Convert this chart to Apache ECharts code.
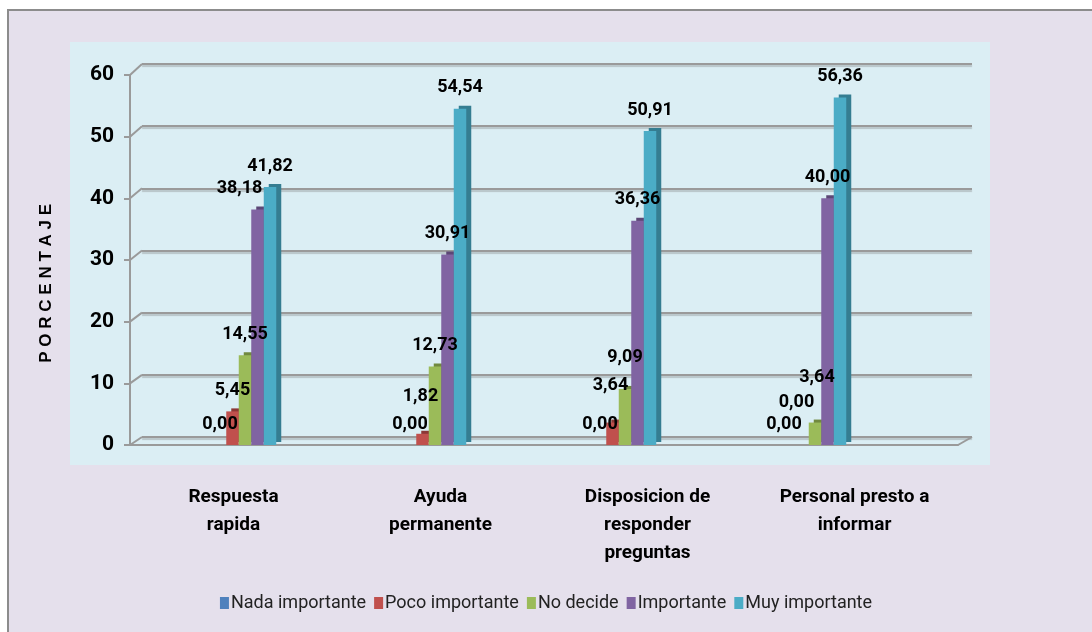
<!DOCTYPE html>
<html>
<head>
<meta charset="utf-8">
<script src="https://cdn.jsdelivr.net/npm/echarts@6/dist/echarts.min.js"></script>
<style>
  html, body { margin: 0; padding: 0; background: #fff; }
  #chart { width: 1092px; height: 632px; }
</style>
</head>
<body>
<div id="chart"></div>
<script>
// categorias y valores (porcentaje)
var categorias = ['Respuesta\nrapida', 'Ayuda\npermanente', 'Disposicion de\nresponder\npreguntas', 'Personal presto a\ninformar'];
var nadaImportante = [0.00, 0.00, 0.00, 0.00];
var pocoImportante = [5.45, 1.82, 3.64, 0.00];
var noDecide = [14.55, 12.73, 9.09, 3.64];
var importante = [38.18, 30.91, 36.36, 40.00];
var muyImportante = [41.82, 54.54, 50.91, 56.36];
var yTicks = [0, 10, 20, 30, 40, 50, 60];

var fuente = "Roboto, 'Liberation Sans', sans-serif";
var gris = '#9a9a9a';

function serie(nombre, datos, color, lado) {
    return {
        name: nombre,
        type: 'bar',
        xAxisIndex: 2,
        yAxisIndex: 2,
        data: datos,
        barWidth: 12.5,
        barGap: '0%',
        itemStyle: {
            color: color,
            shadowColor: lado,
            shadowBlur: 0,
            shadowOffsetX: 5,
            shadowOffsetY: -3
        },
        label: {
            show: true,
            position: 'top',
            distance: 12,
            color: '#000',
            fontFamily: fuente,
            fontWeight: 'bold',
            fontSize: 18,
            formatter: function (p) {
                return p.value.toFixed(2).replace('.', ',');
            }
        }
    };
}

function ejeOculto(i) {
    return {
        gridIndex: i,
        axisLine: { show: false },
        axisTick: { show: false },
        axisLabel: { show: false },
        splitLine: { show: false }
    };
}

// desplaza etiquetas concretas (evita solapes como en el original)
function desplazar(datos, offsets) {
    return datos.map(function (v, i) {
        return offsets[i] ? { value: v, label: { offset: offsets[i] } } : v;
    });
}

var myChart = echarts.init(document.getElementById('chart'));
var option = {
    backgroundColor: '#ffffff',
    graphic: [
        {
            type: 'rect', z: -10,
            shape: { x: 8, y: 10, width: 1100, height: 640 },
            style: { fill: '#e5e0ec', stroke: '#8c8c8c', lineWidth: 2 }
        },
        {
            type: 'rect', z: -9,
            shape: { x: 70, y: 42, width: 920, height: 423 },
            style: { fill: '#dbeef4' }
        },
        {
            type: 'text', left: 38, top: 204, rotation: Math.PI / 2,
            style: {
                text: 'P O R C E N T A J E',
                fontFamily: "'Liberation Sans', Arial, sans-serif",
                fontWeight: 'bold',
                fontSize: 17,
                fill: '#000'
            }
        }
    ],
    grid: [
        // frente: eje y piso
        { left: 130, right: 134, top: 75, bottom: 187 },
        // pared del fondo: lineas de cuadricula
        { left: 142, right: 120, top: 64, bottom: 195 },
        // barras
        { left: 150, right: 182, top: 75, bottom: 187 }
    ],
    legend: {
        top: 589,
        left: 'center',
        itemWidth: 9,
        itemHeight: 12,
        itemGap: 8,
        icon: 'rect',
        textStyle: {
            fontFamily: fuente,
            fontSize: 18,
            color: '#222',
            padding: [0, 0, 0, -3]
        },
        data: ['Nada importante', 'Poco importante', 'No decide', 'Importante', 'Muy importante']
    },
    xAxis: [
        {
            type: 'category',
            gridIndex: 0,
            data: categorias,
            axisLine: { show: true, lineStyle: { color: gris, width: 2 } },
            axisTick: { show: false },
            axisLabel: {
                interval: 0,
                margin: 38,
                color: '#000',
                fontFamily: fuente,
                fontWeight: 'bold',
                fontSize: 19,
                lineHeight: 28
            }
        },
        Object.assign({ type: 'category', data: categorias }, ejeOculto(1)),
        Object.assign({ type: 'category', data: categorias }, ejeOculto(2))
    ],
    yAxis: [
        {
            type: 'value',
            gridIndex: 0,
            min: yTicks[0],
            max: yTicks[yTicks.length - 1],
            interval: 10,
            axisLine: { show: true, lineStyle: { color: gris, width: 2 } },
            axisTick: { show: true, length: 6, lineStyle: { color: gris, width: 2 } },
            axisLabel: {
                margin: 16,
                color: '#000',
                fontFamily: fuente,
                fontWeight: 'bold',
                fontSize: 21
            },
            splitLine: { show: false }
        },
        {
            type: 'value',
            gridIndex: 1,
            min: yTicks[0],
            max: yTicks[yTicks.length - 1],
            interval: 10,
            axisLine: { show: false },
            axisTick: { show: false },
            axisLabel: { show: false },
            splitLine: {
                lineStyle: {
                    color: gris,
                    width: 2,
                    shadowColor: 'rgba(120,120,120,0.35)',
                    shadowBlur: 1,
                    shadowOffsetY: 2
                }
            }
        },
        Object.assign({ type: 'value', min: yTicks[0], max: yTicks[yTicks.length - 1], interval: 10 }, ejeOculto(2))
    ],
    series: [
        serie('Nada importante', desplazar(nadaImportante, { 3: [-6, 0] }), '#4f81bd', '#385d8a'),
        serie('Poco importante', desplazar(pocoImportante, { 1: [-2, -16], 2: [-2, -16], 3: [-6, -22] }), '#c0504d', '#8c3836'),
        serie('No decide', desplazar(noDecide, { 2: [0, -10], 3: [2, -24] }), '#9bbb59', '#71893f'),
        serie('Importante', desplazar(importante, { 0: [-18, 0] }), '#8064a2', '#5c4776'),
        serie('Muy importante', muyImportante, '#4bacc6', '#357d91')
    ]
};
myChart.setOption(option);

// lineas diagonales que unen el eje con la pared del fondo
var diagonales = [];
yTicks.forEach(function (t) {
    var a = myChart.convertToPixel({ xAxisIndex: 0, yAxisIndex: 0 }, [0, t]);
    var b = myChart.convertToPixel({ xAxisIndex: 1, yAxisIndex: 1 }, [0, t]);
    diagonales.push({
        type: 'line', z: 5,
        shape: { x1: 130, y1: a[1], x2: 142, y2: b[1] },
        style: { stroke: gris, lineWidth: 2 }
    });
});
var piso = myChart.convertToPixel({ xAxisIndex: 0, yAxisIndex: 0 }, [0, 0])[1];
var pisoFondo = myChart.convertToPixel({ xAxisIndex: 1, yAxisIndex: 1 }, [0, 0])[1];
diagonales.push({
    type: 'line', z: 5,
    shape: { x1: 1092 - 134, y1: piso, x2: 1092 - 120, y2: pisoFondo },
    style: { stroke: gris, lineWidth: 2 }
});
myChart.setOption({ graphic: option.graphic.concat(diagonales) });
</script>
</body>
</html>
